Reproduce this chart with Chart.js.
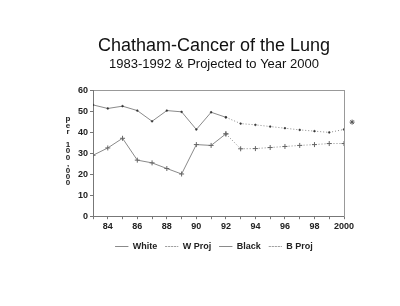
<!DOCTYPE html>
<html>
<head>
<meta charset="utf-8">
<script src="https://cdn.jsdelivr.net/npm/chart.js@4"></script>
<style>
  html, body { margin: 0; padding: 0; background: #fff; }
  #wrap { width: 400px; height: 306px; }
</style>
</head>
<body>
<div id="wrap"><canvas id="myChart"></canvas></div>
<script>
// data (rate per 100,000)
const years = [1983, 1984, 1985, 1986, 1987, 1988, 1989, 1990, 1991, 1992,
               1993, 1994, 1995, 1996, 1997, 1998, 1999, 2000];
const white = [53, 51.3, 52.4, 50.3, 45.2, 50.3, 49.7, 41.3, 49.5, 47.1,
               null, null, null, null, null, null, null, null];
const wProj = [null, null, null, null, null, null, null, null, null, 47.1,
               44.1, 43.5, 42.7, 41.9, 41.1, 40.5, 39.9, 41.3];
const black = [29, 32.5, 37.1, 26.7, 25.4, 22.7, 20.1, 34.1, 33.7, 39.2,
               null, null, null, null, null, null, null, null];
const bProj = [null, null, null, null, null, null, null, null, null, 39.2,
               32.1, 32.2, 32.7, 33.2, 33.7, 34.1, 34.6, 34.6];
// the small star just outside the right edge of the plot
const starMark = { x: 2000.55, y: 44.8 };
const yTicks = [0, 10, 20, 30, 40, 50, 60];
const yTitle = ['p', 'e', 'r', '', '1', '0', '0', ',', '0', '0', '0'];

const toPts = arr => years.map((yr, i) => ({ x: yr, y: arr[i] }));

const lineGray = '#8a8a8a';
const dotDark = '#333';
const font = 'Liberation Sans, Arial, sans-serif';

// y axis title written with the letters stacked one under another,
// plus the star marker (points outside the chart area are not drawn by Chart.js)
const extras = {
    id: 'extras',
    afterDraw(chart) {
        const { ctx, chartArea, scales } = chart;
        const step = 6.4;
        const x = chartArea.left - 25;
        const mid = (chartArea.top + chartArea.bottom) / 2 - 2;
        const y0 = mid - step * (yTitle.length - 1) / 2;
        ctx.save();
        ctx.fillStyle = '#222';
        ctx.font = 'bold 8px ' + font;
        ctx.textAlign = 'center';
        ctx.textBaseline = 'middle';
        yTitle.forEach((ch, i) => ctx.fillText(ch, x, y0 + i * step));

        ctx.strokeStyle = '#555';
        ctx.lineWidth = 1;
        Chart.helpers.drawPoint(ctx, { pointStyle: 'star', radius: 2.5, rotation: 0, borderWidth: 1 },
            scales.x.getPixelForValue(starMark.x), scales.y.getPixelForValue(starMark.y));
        ctx.restore();
    }
};

const ctx = document.getElementById('myChart').getContext('2d');
new Chart(ctx, {
    type: 'line',
    data: {
        datasets: [
            {
                label: 'White', data: toPts(white),
                borderColor: lineGray, backgroundColor: dotDark, borderWidth: 1,
                pointStyle: 'circle', pointRadius: 0.9, pointBorderWidth: 0.5, pointBorderColor: dotDark
            },
            {
                label: 'W Proj', data: toPts(wProj),
                borderColor: lineGray, backgroundColor: dotDark, borderWidth: 1,
                borderDash: [1, 2],
                pointStyle: 'circle', pointRadius: 0.9, pointBorderWidth: 0.5, pointBorderColor: dotDark
            },
            {
                label: 'Black', data: toPts(black),
                borderColor: lineGray, backgroundColor: dotDark, borderWidth: 1,
                pointStyle: 'cross', pointRadius: 2.5, pointBorderColor: '#666'
            },
            {
                label: 'B Proj', data: toPts(bProj),
                borderColor: lineGray, backgroundColor: dotDark, borderWidth: 1,
                borderDash: [1, 2],
                pointStyle: 'cross', pointRadius: 2.5, pointBorderColor: '#666'
            }
        ]
    },
    options: {
        responsive: true,
        maintainAspectRatio: false,
        animation: false,
        layout: { padding: { left: 76, right: 48, top: 0, bottom: 45 } },
        plugins: {
            title: {
                display: true,
                text: 'Chatham-Cancer of the Lung',
                color: '#111',
                font: { family: font, size: 18, weight: 'normal' },
                padding: { top: 35, bottom: 0 }
            },
            subtitle: {
                display: true,
                text: '1983-1992 & Projected to Year 2000',
                color: '#111',
                font: { family: font, size: 13, weight: 'normal' },
                padding: { top: 0, bottom: 10 }
            },
            legend: {
                position: 'bottom',
                labels: {
                    color: '#222',
                    font: { family: font, size: 9, weight: 'bold' },
                    boxWidth: 13,
                    boxHeight: 0,
                    padding: 8,
                    generateLabels: chart => Chart.defaults.plugins.legend.labels.generateLabels(chart)
                        .map(item => Object.assign(item, {
                            fillStyle: 'rgba(0,0,0,0)',
                            strokeStyle: lineGray,
                            lineWidth: 1
                        }))
                }
            },
            tooltip: { enabled: false }
        },
        scales: {
            x: {
                type: 'linear',
                min: 1983, max: 2000,
                grid: { display: true, drawOnChartArea: false, tickLength: 3, color: '#777' },
                border: { color: '#777' },
                ticks: {
                    stepSize: 1,
                    autoSkip: false,
                    maxRotation: 0,
                    padding: 2,
                    color: '#222',
                    font: { family: font, size: 9, weight: 'bold' },
                    callback: v => (v % 2 === 0 ? (v === 2000 ? '2000' : String(v).slice(2)) : '')
                }
            },
            x2: {
                type: 'linear', position: 'top',
                min: 1983, max: 2000,
                grid: { display: false },
                border: { color: '#999' },
                ticks: { display: false }
            },
            y: {
                min: 0, max: 60,
                afterBuildTicks: axis => { axis.ticks = yTicks.map(v => ({ value: v })); },
                grid: { display: true, drawOnChartArea: false, tickLength: 3, color: '#777' },
                border: { color: '#777' },
                ticks: {
                    padding: 2,
                    color: '#222',
                    font: { family: font, size: 9, weight: 'bold' }
                }
            },
            y2: {
                position: 'right',
                min: 0, max: 60,
                grid: { display: false },
                border: { color: '#999' },
                ticks: { display: false }
            }
        }
    },
    plugins: [extras]
});
</script>
</body>
</html>
